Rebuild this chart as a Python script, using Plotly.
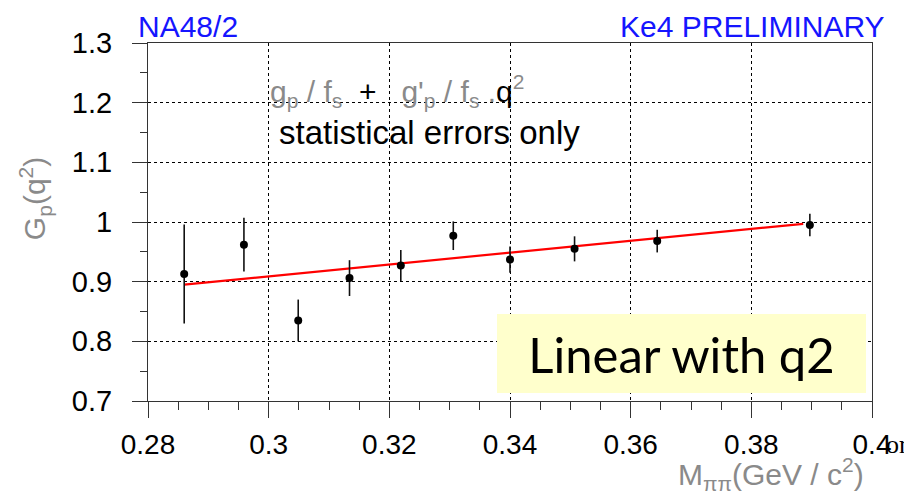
import plotly.graph_objects as go

# Data
mass = [0.2860, 0.2959, 0.3049, 0.3134, 0.3219, 0.3306, 0.3400, 0.3507, 0.3644, 0.3897]
gp = [0.913, 0.962, 0.835, 0.906, 0.927, 0.977, 0.937, 0.955, 0.968, 0.995]
gp_err = [0.083, 0.045, 0.035, 0.030, 0.026, 0.024, 0.022, 0.021, 0.019, 0.019]

fit_x = [0.2860, 0.3886]
fit_y = [0.895, 0.997]

x_tickvals = [0.28, 0.30, 0.32, 0.34, 0.36, 0.38, 0.40]
x_ticktext = ["0.28", "0.3", "0.32", "0.34", "0.36", "0.38", "0.4"]
y_tickvals = [0.7, 0.8, 0.9, 1.0, 1.1, 1.2, 1.3]
y_ticktext = ["0.7", "0.8", "0.9", "1", "1.1", "1.2", "1.3"]

FONT = "Liberation Sans, Arial, sans-serif"

fig = go.Figure()
fig.add_trace(go.Scatter(
    x=fit_x, y=fit_y, mode="lines",
    line=dict(color="#ff0000", width=2.2), hoverinfo="skip", showlegend=False))
fig.add_trace(go.Scatter(
    x=mass, y=gp, mode="markers",
    marker=dict(color="black", size=8),
    error_y=dict(type="data", array=gp_err, color="#111111", thickness=1.6, width=0),
    showlegend=False))

axis_common = dict(
    showline=True, linecolor="#333333", linewidth=1.2, mirror=True,
    showgrid=True, gridcolor="#000000", gridwidth=1, griddash="dot",
    zeroline=False, ticks="outside", tickcolor="#333333", tickwidth=1.2,
    tickfont=dict(family=FONT, size=28, color="black"),
)

fig.update_xaxes(
    range=[0.28, 0.40], tickvals=x_tickvals, ticktext=x_ticktext,
    ticklen=16, ticklabelstandoff=2,
    minor=dict(dtick=0.005, ticks="outside", ticklen=8, tickcolor="#333333", showgrid=False),
    **axis_common)
fig.update_yaxes(
    range=[0.7, 1.3], tickvals=y_tickvals, ticktext=y_ticktext,
    ticklen=15, ticklabelstandoff=14,
    minor=dict(dtick=0.05, ticks="outside", ticklen=7, tickcolor="#333333", showgrid=False),
    **axis_common)
fig.update_yaxes(tickfont=dict(family=FONT, size=29, color="black"))

# the page body adds an 8px offset; the figure is sized to fit the 912x496 window
fig.update_layout(
    width=904, height=488,
    margin=dict(l=140, r=40, t=35, b=95, pad=0),
    plot_bgcolor="white", paper_bgcolor="white",
    showlegend=False,
)

# helpers: page pixel -> paper fraction of the plot area (148..872, 43..400.7)
def px_x(p):
    return (p - 148) / (872 - 148)

def px_y(p):
    return (400.7 - p) / (400.7 - 43)

gray = "#8a8a8a"
sp = "\u00a0"
formula = ("g<sub>p</sub>" + sp + "/" + sp + "f<sub>s</sub>" + sp * 2 +
           "<span style='color:black'>+</span>" + sp * 3 +
           "g'<sub>p</sub>" + sp + "/" + sp + "f<sub>s</sub>" + sp + "." +
           "<span style='color:black'>q</span><sup>2</sup>")
anns = [
    dict(text="NA48/2", x=px_x(136), y=px_y(8), xanchor="left", yanchor="top",
         font=dict(family=FONT, size=30, color="#1515ff")),
    dict(text="Ke4 PRELIMINARY", x=px_x(887), y=px_y(8), xanchor="right", yanchor="top",
         font=dict(family=FONT, size=30, color="#1515ff")),
    dict(text=formula,
         x=px_x(268), y=px_y(91), xanchor="left", yanchor="middle",
         font=dict(family=FONT, size=30, color=gray)),
    dict(text="statistical errors only", x=px_x(277), y=px_y(132), xanchor="left", yanchor="middle",
         font=dict(family=FONT, size=33, color="black")),
    dict(text="Linear with q2", x=px_x(497), y=px_y(314), xanchor="left", yanchor="top",
         width=367, height=77, align="center", valign="middle",
         bgcolor="#ffffcc", borderwidth=0,
         font=dict(family="Lato, Open Sans, sans-serif", size=49, color="black")),
    dict(text="G<sub>p</sub>(q<sup>2</sup>)", x=px_x(35), y=px_y(199), xanchor="center", yanchor="middle",
         textangle=-90, font=dict(family=FONT, size=30, color=gray)),
    dict(text="M<sub>ππ</sub>(GeV / c<sup>2</sup>)", x=px_x(866), y=px_y(474), xanchor="right", yanchor="middle",
         font=dict(family=FONT, size=30, color=gray)),
    dict(text="or", x=px_x(884), y=px_y(444), xanchor="left", yanchor="middle",
         font=dict(family="Liberation Serif, serif", size=26, color="black")),
]
for a in anns:
    a.update(xref="paper", yref="paper", showarrow=False)
fig.update_layout(annotations=anns)

fig.write_html("out.html")
